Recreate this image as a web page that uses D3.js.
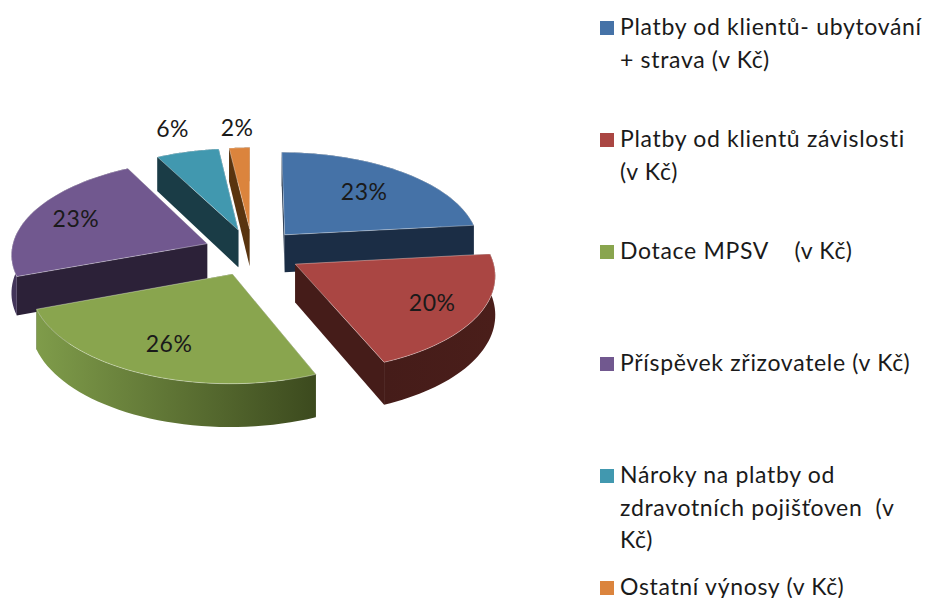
<!DOCTYPE html>
<html>
<head>
<meta charset="utf-8">
<title>Výnosy</title>
<style>
  html, body { margin: 0; background: #fff; }
  svg { display: block; }
  text { font-family: Lato, "Open Sans", sans-serif; fill: #1a1a1a; white-space: pre; }
</style>
</head>
<body>
<svg width="927" height="598"></svg>
<script src="https://d3js.org/d3.v7.min.js"></script>
<script>
// share of each category (labels show them rounded)
var categories = [
  "Platby od klientů- ubytování + strava (v Kč)",
  "Platby od klientů závislosti (v Kč)",
  "Dotace MPSV    (v Kč)",
  "Příspěvek zřizovatele (v Kč)",
  "Nároky na platby od zdravotních pojišťoven  (v Kč)",
  "Ostatní výnosy (v Kč)"
];
var values = [23.3, 20.4, 25.7, 22.9, 5.8, 1.9];

var legendLines = [
  ["Platby od klientů- ubytování", "+ strava (v Kč)"],
  ["Platby od klientů závislosti", "(v Kč)"],
  ["Dotace MPSV    (v Kč)"],
  ["Příspěvek zřizovatele (v Kč)"],
  ["Nároky na platby od", "zdravotních pojišťoven  (v", "Kč)"],
  ["Ostatní výnosy (v Kč)"]
];

var topColors = ["#4572a7", "#aa4643", "#89a54e", "#71588f", "#4198af", "#db843d"];
var wallColors = ["#1b2d45", "#451c19", "#3c4a1e", "#2c2138", "#1a3c46", "#59340f"];
var rimLeft = ["#1b2d45", "#451c19", "#7f9c4a", "#43355a", "#1a3c46", "#59340f"];
var rimRight = ["#1b2d45", "#4a1e1a", "#3c4a1e", "#2c2138", "#1a3c46", "#59340f"];

// how far from the slice tip the percent label sits, in pie radii
var labelRadius = [0.66, 0.76, 0.72, 0.75, 1.33, 1.27];

var svg = d3.select("svg");
var defs = svg.append("defs");

// pie seen from above with a little perspective
var centerX = 252.5, centerY = 252;
var radiusX = 196, radiusY = 94;
var perspective = 0.1;
var depth = 38;
var explode = 0.25;

function project(u, v, drop) {
  var s = 1 / (1 + perspective * v);
  return [centerX + radiusX * u * s, centerY - radiusY * v * s + drop * s];
}

var pie = d3.pie().sort(null).value(function(d) { return d; });
var slices = pie(values);
var line = d3.line();

// paint from the back of the picture to the front
var paintOrder = [5, 4, 3, 0, 2, 1];

paintOrder.forEach(function(i) {
  var d = slices[i];
  var mid = (d.startAngle + d.endAngle) / 2;
  var ou = explode * Math.sin(mid), ov = explode * Math.cos(mid);

  var steps = d3.range(0, 41).map(function(k) {
    return d.startAngle + (d.endAngle - d.startAngle) * k / 40;
  });
  function rim(drop) {
    return steps.map(function(a) { return project(ou + Math.sin(a), ov + Math.cos(a), drop); });
  }
  var tip = project(ou, ov, 0), tipLow = project(ou, ov, depth);
  var upper = rim(0), lower = rim(depth);

  var gradId = "rim" + i;
  var xs = d3.extent(upper, function(p) { return p[0]; });
  var grad = defs.append("linearGradient").attr("id", gradId)
      .attr("gradientUnits", "userSpaceOnUse")
      .attr("x1", xs[0]).attr("x2", xs[1]).attr("y1", 0).attr("y2", 0);
  grad.append("stop").attr("offset", 0).attr("stop-color", rimLeft[i]);
  grad.append("stop").attr("offset", 1).attr("stop-color", rimRight[i]);

  var g = svg.append("g").attr("class", "slice");

  // radial walls
  [upper[0], upper[upper.length - 1]].forEach(function(p, j) {
    var low = j === 0 ? lower[0] : lower[lower.length - 1];
    g.append("path")
        .attr("d", line([tip, p, low, tipLow]) + "Z")
        .attr("fill", wallColors[i]);
  });

  // outer wall
  g.append("path")
      .attr("d", line(upper.concat(lower.slice().reverse())) + "Z")
      .attr("fill", "url(#" + gradId + ")");

  // top surface
  g.append("path")
      .attr("d", line([tip].concat(upper)) + "Z")
      .attr("fill", topColors[i])
      .attr("stroke", "#fff")
      .attr("stroke-opacity", 0.45)
      .attr("stroke-width", 0.8);
});

// percent labels
svg.append("g").selectAll("text")
    .data(slices)
    .join("text")
    .attr("text-anchor", "middle")
    .attr("font-size", 23)
    .attr("letter-spacing", 0.5)
    .attr("x", function(d, i) { return labelPos(d, i)[0]; })
    .attr("y", function(d, i) { return labelPos(d, i)[1] + 8; })
    .text(function(d) { return Math.round(d.value) + "%"; });

function labelPos(d, i) {
  var mid = (d.startAngle + d.endAngle) / 2;
  var r = explode + labelRadius[i];
  return project(r * Math.sin(mid), r * Math.cos(mid), 0);
}

// legend
var legendY = d3.scalePoint().domain(categories).range([35, 595]);

var entry = svg.append("g").selectAll("g")
    .data(categories)
    .join("g")
    .attr("transform", function(d) { return "translate(600," + legendY(d) + ")"; });

entry.append("rect")
    .attr("y", -14)
    .attr("width", 14)
    .attr("height", 14)
    .attr("fill", function(d, i) { return topColors[i]; });

entry.each(function(d, i) {
  d3.select(this).selectAll("text")
      .data(legendLines[i])
      .join("text")
      .attr("x", 20)
      .attr("y", function(t, k) { return k * 32.7; })
      .attr("font-size", 23)
      .attr("letter-spacing", 0.68)
      .text(function(t) { return t; });
});
</script>
</body>
</html>
